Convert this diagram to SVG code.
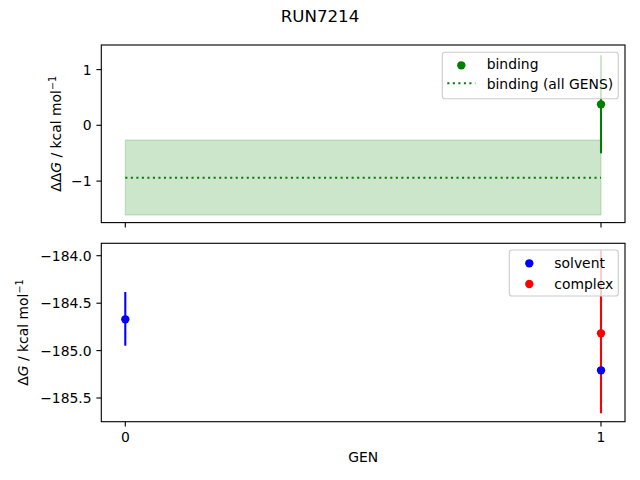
<svg xmlns="http://www.w3.org/2000/svg" width="640" height="480" viewBox="0 0 640 480">
<style>
text{font-family:"DejaVu Sans",sans-serif;font-size:13.9px;fill:#000}
.spine{fill:none;stroke:#000;stroke-width:1.11}
.tick{stroke:#000;stroke-width:1.11}
.yt{text-anchor:end}
.xt{text-anchor:middle}
.leg{fill:#fff;fill-opacity:0.8;stroke:#cccccc;stroke-width:1.11}
</style>
<rect width="640" height="480" fill="#fff"/>
<text x="320" y="22" style="font-size:16.67px" text-anchor="middle">RUN7214</text>

<g id="top-axes">
  <rect x="125.3" y="140" width="475.7" height="75" fill="#008000" fill-opacity="0.2" stroke="#008000" stroke-opacity="0.2" stroke-width="1.11"/>
  <line x1="125.3" y1="177.7" x2="601" y2="177.7" stroke="#008000" stroke-width="2.08" stroke-dasharray="2.08 3.44"/>
  <line x1="601" y1="55.3" x2="601" y2="153.3" stroke="#008000" stroke-width="2.08"/>
  <circle cx="601" cy="104.3" r="4.17" fill="#008000"/>
  <rect class="spine" x="101.3" y="45" width="523.7" height="177.6"/>
  <g class="tick">
    <line x1="101.3" y1="69.6" x2="96.4" y2="69.6"/>
    <line x1="101.3" y1="125.3" x2="96.4" y2="125.3"/>
    <line x1="101.3" y1="181.1" x2="96.4" y2="181.1"/>
    <line x1="125.3" y1="222.6" x2="125.3" y2="227.5"/>
    <line x1="601" y1="222.6" x2="601" y2="227.5"/>
  </g>
  <text class="yt" x="91.6" y="74.6">1</text>
  <text class="yt" x="91.6" y="130.3">0</text>
  <text class="yt" x="91.6" y="186.1">−1</text>
  <text transform="translate(61,133.8) rotate(-90)" text-anchor="middle">ΔΔ<tspan font-style="italic">G</tspan> / kcal mol<tspan dy="-5" style="font-size:9.7px">−1</tspan></text>
  <g id="legend-top">
    <rect class="leg" x="442.3" y="52.3" width="176" height="46.4" rx="2.8"/>
    <circle cx="461.3" cy="65.3" r="4.17" fill="#008000"/>
    <text x="486.7" y="69.3">binding</text>
    <line x1="447.3" y1="83.3" x2="475.3" y2="83.3" stroke="#008000" stroke-width="2.08" stroke-dasharray="2.08 3.44"/>
    <text x="486.7" y="88.6">binding (all GENS)</text>
  </g>
</g>

<g id="bottom-axes">
  <line x1="125.3" y1="292" x2="125.3" y2="345.7" stroke="#0000ff" stroke-width="2.08"/>
  <circle cx="125.3" cy="319.3" r="4.17" fill="#0000ff"/>
  <line x1="601" y1="250" x2="601" y2="413.3" stroke="#ff0000" stroke-width="2.08"/>
  <circle cx="601" cy="370.3" r="4.17" fill="#0000ff"/>
  <circle cx="601" cy="333.3" r="4.17" fill="#ff0000"/>
  <rect class="spine" x="101.3" y="243.3" width="523.7" height="178.4"/>
  <g class="tick">
    <line x1="101.3" y1="255.7" x2="96.4" y2="255.7"/>
    <line x1="101.3" y1="303.2" x2="96.4" y2="303.2"/>
    <line x1="101.3" y1="350.6" x2="96.4" y2="350.6"/>
    <line x1="101.3" y1="398" x2="96.4" y2="398"/>
    <line x1="125.3" y1="421.7" x2="125.3" y2="426.6"/>
    <line x1="601" y1="421.7" x2="601" y2="426.6"/>
  </g>
  <text class="yt" x="91.6" y="260.7">−184.0</text>
  <text class="yt" x="91.6" y="308.2">−184.5</text>
  <text class="yt" x="91.6" y="355.6">−185.0</text>
  <text class="yt" x="91.6" y="403">−185.5</text>
  <text class="xt" x="125.3" y="442">0</text>
  <text class="xt" x="601" y="442">1</text>
  <text class="xt" x="363.2" y="462">GEN</text>
  <text transform="translate(28,332.5) rotate(-90)" text-anchor="middle">Δ<tspan font-style="italic">G</tspan> / kcal mol<tspan dy="-5" style="font-size:9.7px">−1</tspan></text>
  <g id="legend-bottom">
    <rect class="leg" x="509.3" y="250" width="109" height="46" rx="2.8"/>
    <circle cx="529.3" cy="263.3" r="4.17" fill="#0000ff"/>
    <text x="554.3" y="268.3">solvent</text>
    <circle cx="529.3" cy="284" r="4.17" fill="#ff0000"/>
    <text x="554.3" y="289">complex</text>
  </g>
</g>
</svg>
